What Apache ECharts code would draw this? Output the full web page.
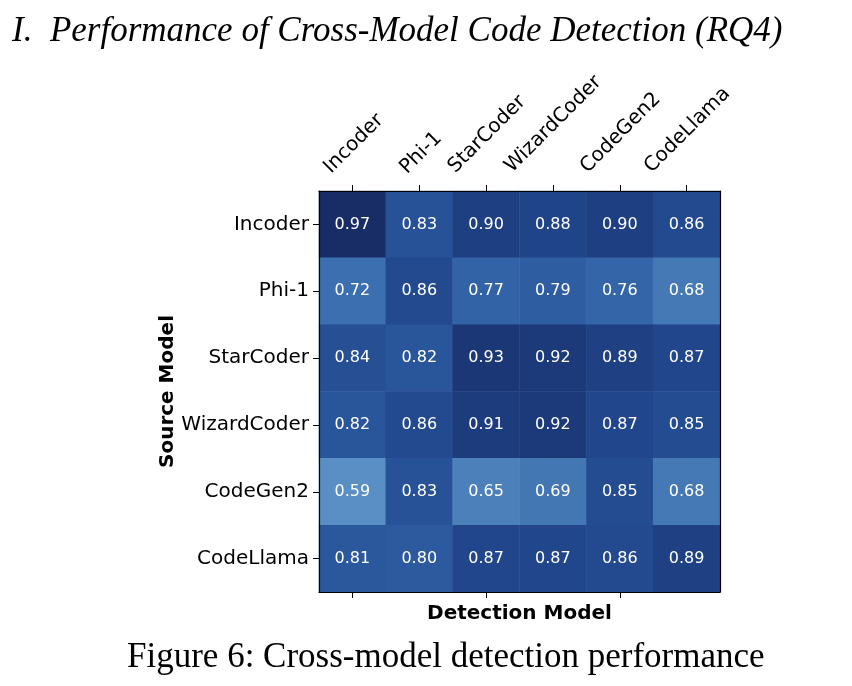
<!DOCTYPE html>
<html>
<head>
<meta charset="utf-8">
<script src="https://cdn.jsdelivr.net/npm/echarts@6/dist/echarts.min.js"></script>
<style>
html,body{margin:0;padding:0;background:#fff;}
#chart{width:852px;height:686px;}
</style>
</head>
<body>
<div id="chart"></div>
<script>
// ---- data ----
const detectionModels = ['Incoder', 'Phi-1', 'StarCoder', 'WizardCoder', 'CodeGen2', 'CodeLlama'];
const sourceModels = ['Incoder', 'Phi-1', 'StarCoder', 'WizardCoder', 'CodeGen2', 'CodeLlama'];
const rowIncoder     = [0.97, 0.83, 0.90, 0.88, 0.90, 0.86];
const rowPhi1        = [0.72, 0.86, 0.77, 0.79, 0.76, 0.68];
const rowStarCoder   = [0.84, 0.82, 0.93, 0.92, 0.89, 0.87];
const rowWizardCoder = [0.82, 0.86, 0.91, 0.92, 0.87, 0.85];
const rowCodeGen2    = [0.59, 0.83, 0.65, 0.69, 0.85, 0.68];
const rowCodeLlama   = [0.81, 0.80, 0.87, 0.87, 0.86, 0.89];
const titleText = 'I.  Performance of Cross-Model Code Detection (RQ4)';
const captionText = 'Figure 6: Cross-model detection performance';

const rows = [rowIncoder, rowPhi1, rowStarCoder, rowWizardCoder, rowCodeGen2, rowCodeLlama];
const heatData = [];
rows.forEach((r, yi) => r.forEach((v, xi) => heatData.push([xi, yi, v])));

// ---- rotated top labels: emulate matplotlib centred 45deg labels ----
const FONT = '"DejaVu Sans", sans-serif';
const FS = 20;
const cv = document.createElement('canvas').getContext('2d');
cv.font = FS + 'px ' + FONT;
const K = 200;
const rich = {};
detectionModels.forEach((t, i) => {
  const L = cv.measureText(t).width;
  const pr = Math.max(0, (K - 1.5 * L + 4.24) / 2 - 5);
  const pt = Math.max(0, 181.9 - 0.55 * L);
  rich['r' + i] = {fontSize: FS, fontFamily: FONT, color: '#000', lineHeight: 20, padding: [pt, pr, 0, 0]};
});
const topMargin = 18 + 0.7071 * K;

const chart = echarts.init(document.getElementById('chart'), null, {renderer: 'canvas'});
chart.setOption({
  backgroundColor: '#fff',
  animation: false,
  title: [
    {text: titleText, left: 7, top: 9,
     textStyle: {fontFamily: '"Liberation Serif", serif', fontStyle: 'italic', fontWeight: 'normal', fontSize: 35, color: '#000'}},
    {text: captionText, left: 122, top: 635,
     textStyle: {fontFamily: '"Liberation Serif", serif', fontWeight: 'normal', fontSize: 35, color: '#000'}}
  ],
  grid: {left: 319, top: 191, width: 401, height: 401, show: false, outerBoundsMode: 'none', containLabel: false},
  xAxis: [
    {type: 'category', position: 'top', data: detectionModels, z: 10,
     axisLine: {show: true, lineStyle: {color: '#000', width: 1.2}},
     axisTick: {show: true, alignWithLabel: true, length: 6, lineStyle: {color: '#000', width: 1}},
     axisLabel: {interval: 0, rotate: -45, align: 'right', verticalAlign: 'top', margin: topMargin,
       formatter: (v, i) => '{r' + i + '|' + v + '}', rich: rich},
     splitLine: {show: false}},
    {type: 'category', position: 'bottom', data: detectionModels, z: 10,
     axisLine: {show: true, lineStyle: {color: '#000', width: 1.2}},
     axisTick: {show: true, alignWithLabel: true, length: 6, lineStyle: {color: '#000', width: 1}},
     axisLabel: {show: false},
     name: 'Detection Model', nameLocation: 'middle', nameGap: 12,
     nameTextStyle: {fontFamily: FONT, fontWeight: 'bold', fontSize: 20, color: '#000'}}
  ],
  yAxis: [
    {type: 'category', position: 'left', data: sourceModels, inverse: true, z: 10,
     axisLine: {show: true, lineStyle: {color: '#000', width: 1.2}},
     axisTick: {show: true, alignWithLabel: true, length: 6, lineStyle: {color: '#000', width: 1}},
     axisLabel: {fontFamily: FONT, fontSize: 20, color: '#000', margin: 10},
     name: 'Source Model', nameLocation: 'middle', nameRotate: 90, nameGap: 141,
     nameTextStyle: {fontFamily: FONT, fontWeight: 'bold', fontSize: 20, color: '#000'}},
    {type: 'category', position: 'right', data: sourceModels, inverse: true, z: 10,
     axisLine: {show: true, lineStyle: {color: '#000', width: 1.2}},
     axisTick: {show: false}, axisLabel: {show: false}}
  ],
  visualMap: {show: false, min: 0.59, max: 0.97, dimension: 2,
    inRange: {color: ['#5a8fc6', '#4378b5', '#3060a5', '#20458a', '#182d66']}},
  series: [{
    type: 'heatmap', xAxisIndex: 0, yAxisIndex: 0, data: heatData,
    itemStyle: {borderWidth: 0},
    emphasis: {disabled: true},
    label: {show: true, color: '#fff', fontFamily: FONT, fontSize: 16,
      formatter: p => p.value[2].toFixed(2)}
  }]
});
</script>
</body>
</html>
